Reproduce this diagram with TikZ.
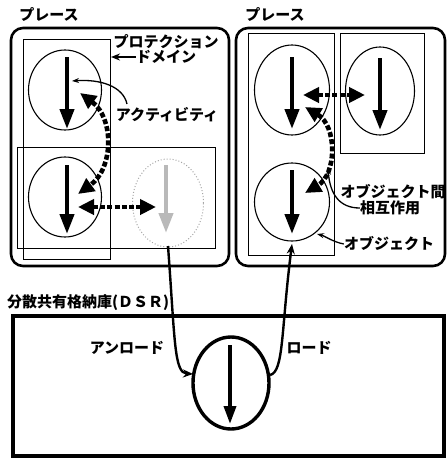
\documentclass[tikz,border=0pt]{standalone}
\usepackage{fontspec}
\newfontfamily\jp{Noto Sans CJK JP}
\usetikzlibrary{arrows.meta,shapes.geometric}
\tikzset{
  placebox/.style={draw,line width=2.6pt,rounded corners=12pt},
  pdbox/.style={draw,line width=0.9pt},
  obj/.style={ellipse,draw,line width=1.1pt,inner sep=0pt},
  ghost/.style={ellipse,draw=gray!70,dotted,line width=1pt,inner sep=0pt},
  act/.style={line width=4.2pt,-{Triangle[width=14pt,length=20pt]}},
  gact/.style={line width=4.2pt,draw=gray!55,-{Triangle[width=14pt,length=20pt]},color=gray!55},
  inter/.style={line width=4.6pt,dash pattern=on 5pt off 2.2pt,{Triangle[width=15pt,length=16pt]}-{Triangle[width=15pt,length=16pt]}},
  move/.style={line width=2.4pt,-{Stealth[width=8pt,length=10pt]}},
  pointer/.style={line width=1.3pt,-{Stealth[width=5pt,length=7pt]}},
  lbl/.style={font=\jp\bfseries\fontsize{15}{15}\selectfont,inner sep=0pt},
}
\begin{document}
\begin{tikzpicture}[x=1pt,y=-1pt]
\useasboundingbox (0,0) rectangle (447,458);
% places
\draw[placebox] (11,28) rectangle (229,266);
\draw[placebox] (236,28) rectangle (445,266);
\node[lbl] (p1) at (49,15) {プレース};
\node[lbl] (p2) at (275,15) {プレース};
% left place domains
\draw[pdbox] (23,39) rectangle (110,259);
\draw[pdbox] (17,147) rectangle (215,248);
% left objects
\node[obj,minimum width=73pt,minimum height=80pt] (c1) at (65,90) {};
\node[obj,minimum width=73pt,minimum height=80pt] (c2) at (65,197) {};
\node[ghost,minimum width=71pt,minimum height=88pt] (c3) at (168,203) {};
\coordinate (c1t) at (67,57); \coordinate (c1b) at (67,129);
\coordinate (c2t) at (67,165); \coordinate (c2b) at (67,234);
\coordinate (c3t) at (166,165); \coordinate (c3b) at (166,233);
\draw[act] (c1t) -- (c1b);
\draw[act] (c2t) -- (c2b);
\draw[gact] (c3t) -- (c3b);
\coordinate (l12a) at (80,93); \coordinate (l12b) at (78,194);
\draw[inter] (l12a) .. controls (114,118) and (114,168) .. (l12b);
\coordinate (l23a) at (78,207); \coordinate (l23b) at (156,207);
\draw[inter] (l23a) -- (l23b);
% left labels
\node[lbl] (pd1) at (166,42) {プロテクション};
\node[lbl] (pd2) at (166,57) {ドメイン};
\coordinate (pdt) at (111,57);
\draw[line width=2pt,-{Stealth[width=7pt,length=9pt]}] (pd2.west) -- (pdt);
\node[lbl] (actl) at (167,115) {アクティビティ};
\coordinate (acts) at (127,104); \coordinate (actt) at (72,81);
\draw[pointer] (acts) .. controls (123,86) and (100,79) .. (actt);
% right place domains
\draw[pdbox] (248,33) rectangle (334,255);
\draw[pdbox] (340,33) rectangle (424,153);
\node[obj,minimum width=75pt,minimum height=90pt] (d1) at (292,90) {};
\node[obj,minimum width=69pt,minimum height=88pt] (d2) at (380,91) {};
\node[obj,minimum width=75pt,minimum height=78pt] (d3) at (292,202) {};
\coordinate (d1t) at (292,57); \coordinate (d1b) at (292,129);
\coordinate (d2t) at (380,58); \coordinate (d2b) at (380,130);
\coordinate (d3t) at (292,170); \coordinate (d3b) at (292,234);
\draw[act] (d1t) -- (d1b);
\draw[act] (d2t) -- (d2b);
\draw[act] (d3t) -- (d3b);
\coordinate (r12a) at (303,95); \coordinate (r12b) at (365,95);
\draw[inter] (r12a) -- (r12b);
\coordinate (r13a) at (305,107); \coordinate (r13b) at (305,193);
\draw[inter] (r13a) .. controls (337,126) and (337,174) .. (r13b);
% right labels
\node[lbl] (oi1) at (393,192) {オブジェクト間};
\node[lbl] (oi2) at (390,208) {相互作用};
\coordinate (oit) at (328,168);
\draw[pointer] (oi2.west) .. controls (340,208) and (330,195) .. (oit);
\node[lbl] (ob) at (389,244) {オブジェクト};
\coordinate (obt) at (317,234);
\draw[pointer] (ob.west) .. controls (333,242) and (325,236) .. (obt);
% DSR
\node[lbl,anchor=west] (dsrl) at (7,303) {分散共有格納庫(ＤＳＲ)};
\draw[line width=3.6pt] (13,316) rectangle (444,456);
\node[ellipse,draw,line width=3.4pt,inner sep=0pt,minimum width=76pt,minimum height=92pt] (e) at (231,383) {};
\coordinate (et) at (230,345); \coordinate (eb) at (230,424);
\draw[line width=3.6pt,-{Triangle[width=12pt,length=18pt]}] (et) -- (eb);
\node[lbl] (unl) at (127,348) {アンロード};
\node[lbl] (ldl) at (309,348) {ロード};
\coordinate (ul1) at (168,246); \coordinate (ul2) at (193,374);
\draw[move] (ul1) .. controls (175,340) and (174,373) .. (ul2);
\coordinate (ld1) at (270,375); \coordinate (ld2) at (292,244);
\draw[move] (ld1) .. controls (284,372) and (281,330) .. (ld2);
\end{tikzpicture}
\end{document}
